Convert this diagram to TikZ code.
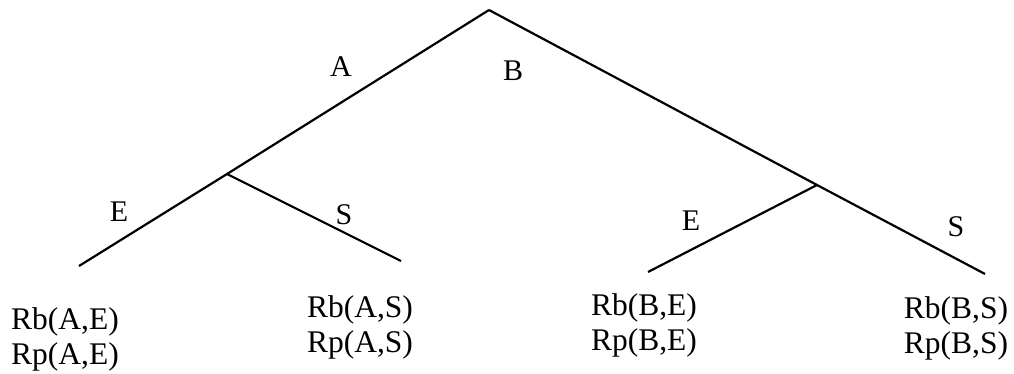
\documentclass[tikz,border=0pt]{standalone}
\usepackage{fontspec}
\setmainfont{Liberation Serif}
\begin{document}
\begin{tikzpicture}[x=1pt,y=-1pt,
  branch/.style={line width=2.2pt},
  lbl/.style={font=\fontsize{30}{34}\selectfont, inner sep=0pt, anchor=base},
  payoff/.style={font=\fontsize{31.5}{34.5}\selectfont, inner sep=0pt, anchor=base, align=center}]
\useasboundingbox (0,0) rectangle (1014,374);
% decision points
\coordinate (root) at (489,10);
\coordinate (nA) at (227,174);
\coordinate (nB) at (817,185);
% branch ends
\coordinate (AE) at (79,266);
\coordinate (AS) at (401,261);
\coordinate (BE) at (648,272);
\coordinate (BS) at (985,274);
% branches
\draw[branch] (root) -- (nA) -- (AE);
\draw[branch] (nA) -- (AS);
\draw[branch] (root) -- (nB) -- (BS);
\draw[branch] (nB) -- (BE);
% branch labels
\node[lbl] (lA) at (341,77) {A};
\node[lbl] (lB) at (513,81) {B};
\node[lbl] (lAE) at (119,222) {E};
\node[lbl] (lAS) at (344,225) {S};
\node[lbl] (lBE) at (691,230) {E};
\node[lbl] (lBS) at (956,236) {S};
% payoffs (anchored at the baseline of the lower line)
\node[payoff] (pAE) at (65,364) {Rb(A,E)\\Rp(A,E)};
\node[payoff] (pAS) at (360,352) {Rb(A,S)\\Rp(A,S)};
\node[payoff] (pBE) at (644,350) {Rb(B,E)\\Rp(B,E)};
\node[payoff] (pBS) at (956,353) {Rb(B,S)\\Rp(B,S)};
\end{tikzpicture}
\end{document}
